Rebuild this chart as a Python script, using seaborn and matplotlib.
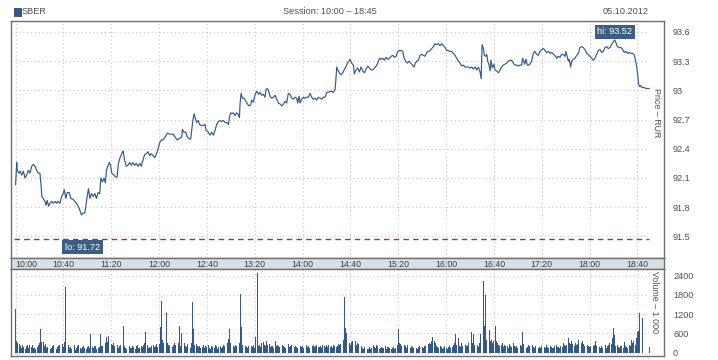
import numpy as np
import pandas as pd
import matplotlib
matplotlib.use("Agg")
import matplotlib.pyplot as plt
from matplotlib.patches import Rectangle
import seaborn as sns

# ---------------- data ----------------
ticker = "SBER"
session_text = "Session: 10:00 \u2013 18:45"
date_text = "05.10.2012"

# price: minutes after 10:00 and price (RUR)
price_minutes = [
    0, 1, 1.4, 2.8, 3.8, 5.1, 6.5, 7.9, 9.3, 10.7, 12.1, 13.5, 14.9, 16.3, 17.6, 19, 20.4, 21.3, 22, 23.2,
    24.6, 25.4, 26.5, 27.6, 28.8, 30.1, 31.5, 32.9, 34.3, 35.6, 37.1, 38.5, 39.8, 40.7, 42, 43.2, 44.9, 46.3, 48.2, 49.6,
    51, 52.4, 53.8, 55.1, 56.5, 57.9, 58.8, 59.9, 61, 62.1, 63.5, 64.9, 66.3, 67.6, 69, 70.4, 71.3, 72.6, 74, 75.1,
    76, 77.4, 78.5, 79.6, 80.4, 82.1, 83.8, 84.9, 86, 87.1, 88.5, 89.9, 91.3, 92.6, 94, 95.4, 96.8, 98.1, 99.6, 100.9,
    102.4, 103.8, 105.1, 106.5, 107.9, 109.3, 110.8, 112.1, 113.5, 114.9, 116.3, 117.6, 119, 120.4, 121.8, 123.2, 125, 127,
    129.2, 132.0, 133.4, 135.3, 137.6, 139.0, 139.5, 140.9, 142.3, 143.7, 145.4, 146.5, 147.3, 148.2, 149.3, 150.1,
    151.5, 152.9, 153.7, 155.7, 157.1, 158.5, 159.3, 161.2, 162.6, 164.0, 165.4, 166.8, 168.2, 169.6, 171.0, 172.4,
    173.8, 175.2, 176.6, 178.0, 178.8, 179.9, 181.0, 182.2, 183.5, 184.9, 186.3, 187.2, 187.7, 188.6, 189.7, 191.1,
    192.5, 193.9, 195.3, 196.6, 197.5, 198.9, 200.3, 201.7, 203.1, 204.4, 205.8, 207.2, 208.6, 209.5, 210.6, 211.7,
    212.8, 214.2, 215.6, 217.0, 218.4, 219.8, 221.2, 222.6, 224.0, 225.4, 226.7, 228.1, 229.5, 230.9, 232.3, 233.7,
    235.1, 235.9, 237.1, 237.9, 239.3, 240.7, 242.1, 243.5, 244.9, 246.3, 247.6, 249.0, 250.4, 251.8, 253.2, 254.6,
    256.0, 257.4, 258.8, 260.2, 261.6, 263.0, 264.4, 265.8, 267.2,
    268.6, 269.4, 270.8, 272.2, 273.6, 274.7, 276.1, 277.5, 278.9, 279.7, 281.1, 282.5, 283.3, 284.7, 286.1, 287.5,
    288.9, 290.3, 291.7, 293.1, 294.5, 295.9, 297.3, 298.7, 300.1, 301.5, 302.9, 304.2, 305.6, 307.0, 308.4, 309.8,
    311.2, 312.6, 314.0, 315.4, 316.8, 318.2, 319.6, 321.0, 322.4, 323.8, 324.9, 326.3, 327.7, 329.1, 330.4, 331.8,
    333.2, 334.3, 335.5, 336.9, 338.2, 339.6, 341.0, 342.4, 343.8, 345.2, 346.6, 348.0, 349.4, 350.8, 352.2, 353.6,
    355.0, 356.4, 357.8, 359.2, 360.5, 361.9, 363.3, 364.7, 366.1, 367.5, 368.9, 370.3, 371.7, 373.1, 374.5, 375.9,
    377.3, 378.7, 380.1, 381.4, 382.8, 384.2, 385.6, 387.0, 388.4, 389.3, 390.1, 391.2, 392.0, 393.2, 394.0, 394.8,
    395.9, 396.8,
    397.5, 398.7, 400.0, 400.9, 402.3, 403.7, 405.1, 406.5, 407.8, 409.2, 410.6, 412.0, 413.4, 414.8, 416.2, 417.6,
    419.0, 420.4, 421.8, 423.2, 424.0, 424.9, 425.7, 426.8, 427.9, 429.0, 430.1, 431.5, 432.9, 434.3, 435.7, 437.1,
    438.5, 439.9, 441.3, 442.7, 444.1, 445.5, 446.9, 448.3, 449.7, 451.0, 452.4, 453.8, 455.2, 456.6, 458.0, 459.4,
    460.2, 461.4, 462.2, 463.0, 464.1, 465.0, 466.4, 467.8, 469.2, 470.6, 471.9, 473.3, 474.7, 476.1, 477.5, 478.9,
    480.3, 481.7, 483.1, 484.5, 485.9, 487.3, 488.7, 490.1, 491.5, 492.9, 494.3, 495.6, 497.0, 498.4, 499.8, 500.9,
    502.0, 503.2, 504.8, 506.2, 507.6, 509.0, 510.4, 511.8, 513.2, 514.6, 516.0, 517.1, 518.2, 519.3, 520.2, 521.0,
    521.8, 522.7, 523.8, 525.5, 527.1, 528.8, 529.9,
]
price_values = [
    92.03, 92.26, 92.18, 92.15, 92.17, 92.13, 92.17, 92.10, 92.13, 92.18, 92.15, 92.22, 92.24, 92.22, 92.18, 92.15, 92.15, 92.03, 91.91, 91.89,
    91.86, 91.82, 91.87, 91.81, 91.84, 91.86, 91.84, 91.86, 91.84, 91.86, 91.84, 91.91, 91.94, 91.98, 91.89, 91.95, 91.95, 91.89, 91.88, 91.86,
    91.84, 91.81, 91.77, 91.72, 91.74, 91.74, 91.81, 91.91, 91.99, 91.89, 91.94, 91.91, 91.94, 91.89, 91.95, 91.94, 92.10, 92.06, 92.10, 92.05,
    92.18, 92.23, 92.26, 92.22, 92.15, 92.13, 92.11, 92.11, 92.25, 92.30, 92.34, 92.38, 92.28, 92.22, 92.23, 92.26, 92.23, 92.26, 92.23, 92.25,
    92.22, 92.25, 92.22, 92.28, 92.34, 92.35, 92.37, 92.33, 92.35, 92.33, 92.31, 92.34, 92.39, 92.46, 92.49, 92.49, 92.52, 92.56,
    92.55, 92.55, 92.52, 92.49, 92.51, 92.52, 92.60, 92.57, 92.57, 92.52, 92.50, 92.50, 92.59, 92.69, 92.76, 92.72,
    92.67, 92.69, 92.65, 92.64, 92.64, 92.65, 92.59, 92.57, 92.54, 92.57, 92.54, 92.59, 92.65, 92.68, 92.69, 92.68,
    92.69, 92.67, 92.67, 92.65, 92.72, 92.77, 92.76, 92.77, 92.74, 92.77, 92.75, 92.72, 92.86, 92.97, 92.92, 92.92,
    92.89, 92.86, 92.84, 92.85, 92.90, 92.88, 92.96, 92.99, 92.96, 92.98, 92.95, 92.96, 92.93, 93.01, 93.02, 92.99,
    92.94, 92.92, 92.93, 92.95, 92.91, 92.87, 92.86, 92.84, 92.86, 92.89, 92.87, 92.97, 92.96, 92.92, 92.91, 92.93,
    92.92, 92.87, 92.94, 92.87, 92.91, 92.93, 92.92, 92.93, 92.93, 92.97, 92.93, 92.91, 92.92, 92.90, 92.93, 92.92,
    92.91, 92.93, 92.93, 92.98, 92.98, 92.99, 92.99, 92.98, 93.01,
    93.24, 93.21, 93.18, 93.16, 93.18, 93.21, 93.24, 93.28, 93.30, 93.32, 93.28, 93.26, 93.17, 93.21, 93.23, 93.19,
    93.24, 93.20, 93.18, 93.22, 93.25, 93.23, 93.21, 93.21, 93.23, 93.25, 93.28, 93.33, 93.32, 93.33, 93.31, 93.34,
    93.32, 93.33, 93.35, 93.36, 93.34, 93.35, 93.40, 93.41, 93.41, 93.40, 93.33, 93.30, 93.28, 93.30, 93.28, 93.26,
    93.24, 93.28, 93.30, 93.31, 93.36, 93.37, 93.36, 93.35, 93.39, 93.40, 93.41, 93.43, 93.45, 93.48, 93.47, 93.48,
    93.46, 93.48, 93.46, 93.44, 93.41, 93.41, 93.40, 93.40, 93.38, 93.36, 93.33, 93.30, 93.28, 93.25, 93.26, 93.24,
    93.24, 93.24, 93.23, 93.24, 93.22, 93.24, 93.21, 93.24, 93.19, 93.12, 93.47, 93.43, 93.36, 93.35, 93.37, 93.30,
    93.26, 93.20,
    93.31, 93.23, 93.27, 93.21, 93.20, 93.18, 93.21, 93.24, 93.26, 93.27, 93.28, 93.30, 93.31, 93.31, 93.28, 93.26,
    93.26, 93.25, 93.26, 93.26, 93.33, 93.30, 93.27, 93.32, 93.26, 93.26, 93.27, 93.30, 93.38, 93.40, 93.37, 93.36,
    93.40, 93.42, 93.43, 93.41, 93.39, 93.40, 93.38, 93.39, 93.37, 93.36, 93.33, 93.35, 93.34, 93.37, 93.37, 93.35,
    93.40, 93.34, 93.30, 93.32, 93.24, 93.30, 93.32, 93.33, 93.36, 93.38, 93.44, 93.45, 93.44, 93.42, 93.38, 93.37,
    93.35, 93.33, 93.31, 93.33, 93.37, 93.41, 93.42, 93.39, 93.40, 93.44, 93.45, 93.43, 93.44, 93.47, 93.50, 93.52,
    93.49, 93.45, 93.44, 93.44, 93.42, 93.39, 93.40, 93.38, 93.39, 93.38, 93.38, 93.37, 93.32, 93.25, 93.16, 93.06,
    93.04, 93.05, 93.03, 93.03, 93.02, 93.02, 93.02,
]

# volume (thousands of shares) per minute from 10:00
volume = [
    1360, 350, 300, 260, 200, 150, 240, 180, 120, 220, 250, 160, 230, 180, 250, 150, 140, 120, 180, 230,
    300, 740, 340, 320, 200, 260, 150, 180, 230, 120, 160, 210, 250, 140, 100, 180, 200, 230, 150, 260,
    180, 320, 2060, 2340, 250, 150, 180, 120, 200, 230, 90, 160, 200, 240, 140, 110, 170, 220, 150, 130,
    180, 200, 160, 580, 170, 140, 200, 220, 120, 150, 180, 580, 200, 220, 150, 300, 500, 330, 520, 450,
    260, 250, 300, 200, 180, 230, 150, 200, 250, 260, 840, 200, 150, 130, 190, 220, 160, 140, 210, 180,
    120, 200, 240, 150, 160, 220, 170, 230, 300, 650, 250, 160, 180, 140, 200, 230, 170, 210, 280, 180,
    260, 800, 1610, 400, 300, 250, 1250, 300, 250, 200, 260, 180, 230, 300, 240, 220, 300, 830, 200, 600,
    250, 300, 200, 180, 260, 220, 150, 300, 1580, 750, 250, 270, 200, 180, 220, 150, 190, 230, 160, 200,
    180, 230, 150, 120, 210, 190, 160, 240, 200, 130, 180, 220, 150, 170, 230, 200, 260, 300, 420, 740,
    300, 250, 200, 180, 230, 220, 260, 300, 1830, 810, 250, 230, 200, 180, 150, 220, 260, 200, 170, 240,
    140, 500, 2490, 200, 250, 180, 300, 320, 230, 200, 350, 240, 260, 180, 200, 220, 160, 380, 200, 250,
    210, 180, 150, 230, 200, 170, 140, 220, 260, 180, 200, 230, 150, 170, 210, 190, 140, 160, 220, 180,
    200, 150, 170, 230, 180, 200, 140, 160, 210, 250, 180, 200, 230, 170, 190, 210, 160, 240, 200, 180,
    230, 170, 250, 190, 210, 160, 240, 200, 180, 220, 260, 230, 280, 260, 400, 1745, 780, 600, 350, 300,
    250, 330, 360, 220, 380, 240, 300, 260, 1143, 200, 150, 120, 180, 160, 100, 130, 170, 120, 160, 250,
    180, 140, 230, 200, 120, 160, 180, 150, 140, 200, 130, 170, 190, 150, 120, 160, 180, 130, 150, 230,
    740, 300, 280, 220, 180, 250, 200, 160, 230, 180, 150, 200, 170, 140, 180, 150, 130, 170, 200, 160,
    180, 150, 200, 220, 170, 260, 300, 280, 350, 500, 370, 300, 220, 180, 150, 200, 170, 130, 150, 210,
    160, 120, 180, 200, 150, 170, 250, 300, 580, 250, 470, 200, 180, 300, 200, 150, 250, 220, 200, 300,
    230, 630, 300, 570, 250, 200, 230, 180, 300, 570, 1820, 2234, 840, 1800, 400, 300, 700, 350, 400, 300,
    350, 830, 350, 300, 250, 200, 230, 300, 180, 250, 200, 220, 150, 260, 200, 180, 300, 220, 170, 200,
    150, 180, 230, 200, 630, 260, 220, 150, 180, 250, 200, 160, 230, 180, 150, 200, 170, 140, 190, 150,
    200, 160, 180, 150, 230, 180, 150, 200, 170, 140, 160, 200, 250, 180, 170, 150, 220, 190, 300, 250,
    200, 250, 450, 300, 260, 350, 280, 200, 300, 230, 260, 400, 550, 300, 350, 260, 200, 300, 230, 200,
    180, 220, 150, 200, 250, 350, 200, 330, 180, 160, 200, 150, 180, 230, 160, 200, 250, 300, 260, 450,
    780, 550, 200, 250, 180, 150, 200, 220, 160, 320, 200, 180, 150, 230, 200, 400, 300, 350, 250, 450,
    650, 675, 1226, 680, 1091, 0, 0, 0, 0, 0, 187,
]

time_ticks = [0, 40, 80, 120, 160, 200, 240, 280, 320, 360, 400, 440, 480, 520]
time_labels = ["10:00", "10:40", "11:20", "12:00", "12:40", "13:20", "14:00", "14:40",
               "15:20", "16:00", "16:40", "17:20", "18:00", "18:40"]
price_ticks = [91.5, 91.8, 92.1, 92.4, 92.7, 93.0, 93.3, 93.6]
price_labels = ["91.5", "91.8", "92.1", "92.4", "92.7", "93", "93.3", "93.6"]
vol_ticks = [0, 600, 1200, 1800, 2400]
vol_labels = ["0", "600", "1200", "1800", "2400"]

# ---------------- style ----------------
sns.set_theme(style="white")
plt.rcParams['font.family'] = ['Liberation Sans', 'DejaVu Sans']

BLUE = "#33598a"
BOX = "#3b5e84"
TXT = "#505050"
GRID = "#c8c8c8"
FRAME = "#707070"
STRIP = "#d7dfe7"

W, H = 718, 360
fig = plt.figure(figsize=(W / 100, H / 100), dpi=100)
fig.patch.set_facecolor("white")


def rect(x0, y0, x1, y1):
    return [x0 / W, 1 - y1 / H, (x1 - x0) / W, (y1 - y0) / H]


ax_p = fig.add_axes(rect(11, 21, 664, 258))
ax_s = fig.add_axes(rect(11, 258, 664, 269))
ax_v = fig.add_axes(rect(11, 269, 664, 356))

XMIN, XMAX = -3.8, 542.2
GRID_END = 530

for ax in (ax_p, ax_s, ax_v):
    ax.set_xlim(XMIN, XMAX)
    ax.set_facecolor("white")
    for s in ax.spines.values():
        s.set_color(FRAME)
        s.set_linewidth(1.0)
        s.set_visible(True)
    ax.set_xticks([])

dots = (0, (1, 2.5))

# ---- price panel ----
ax_p.set_ylim(91.278, 93.713)
ax_p.vlines(time_ticks, 91.278, 93.713, colors=GRID, linestyles=dots, lw=0.8, zorder=0)
ax_p.hlines(price_ticks, -0.5, GRID_END, colors=GRID, linestyles=dots, lw=0.8, zorder=0)

df_p = pd.DataFrame({"t": price_minutes, "price": price_values})
sns.lineplot(data=df_p, x="t", y="price", ax=ax_p, color=BLUE, linewidth=0.85,
             estimator=None, sort=True, zorder=3)
ax_p.set_xlim(XMIN, XMAX)
ax_p.set_ylim(91.278, 93.713)
ax_p.set_xlabel("")
ax_p.set_ylabel("")
ax_p.set_xticks([])
ax_p.set_yticks(price_ticks)
ax_p.set_yticklabels(price_labels)
ax_p.tick_params(axis="y", left=False, right=False, labelleft=False, labelright=True,
                 length=0, pad=6.5, labelsize=6.6, labelcolor=TXT)

# reference dashed line near bottom
ax_p.hlines(91.473, -1, GRID_END, colors="#b03030", linestyles=(0, (4, 3)), lw=1.0, zorder=2)

# hi / lo labels
i_hi = int(np.argmax(price_values))
i_lo = int(np.argmin(price_values))
ax_p.annotate(f"hi: {price_values[i_hi]:.2f}", xy=(price_minutes[i_hi], price_values[i_hi]),
              xytext=(0, 8), textcoords="offset pixels", ha="center", va="center",
              fontsize=6.6, color="white",
              bbox=dict(boxstyle="square,pad=0.28", fc=BOX, ec="none"), zorder=5)
ax_p.annotate(f"lo: {price_values[i_lo]:.2f}", xy=(price_minutes[i_lo], 91.473),
              xytext=(1, -8), textcoords="offset pixels", ha="center", va="center",
              fontsize=6.6, color="white",
              bbox=dict(boxstyle="square,pad=0.28", fc=BOX, ec="none"), zorder=5)

fig.text(656 / W, 1 - 88 / H, "Price \u2013 RUR",
         rotation=270, ha="center", va="top", fontsize=6.4, color=TXT)

# ---- time strip ----
ax_s.set_facecolor(STRIP)
ax_s.set_ylim(0, 1)
ax_s.set_yticks([])
for t, lab in zip(time_ticks, time_labels):
    ax_s.text(t if t > 0 else -0.5, 0.45, lab, ha="left" if t == 0 else "center", va="center",
              fontsize=6.3, color="#404040")

# ---- volume panel ----
ax_v.vlines(time_ticks, -103, 2609, colors=GRID, linestyles=dots, lw=0.8, zorder=0)
ax_v.hlines(vol_ticks, -0.5, GRID_END, colors=GRID, linestyles=dots, lw=0.8, zorder=0)
df_v = pd.DataFrame({"t": np.arange(len(volume), dtype=float), "vol": np.asarray(volume, dtype=float)})
sns.histplot(data=df_v, x="t", weights="vol", binwidth=1, binrange=(-0.5, len(volume) - 0.5),
             shrink=0.75, color=BLUE, alpha=1.0, linewidth=0, ax=ax_v, zorder=3)
ax_v.set_xlim(XMIN, XMAX)
ax_v.set_ylim(-103, 2609)
ax_v.set_xlabel("")
ax_v.set_ylabel("")
ax_v.set_xticks([])
ax_v.set_yticks(vol_ticks)
ax_v.set_yticklabels(vol_labels)
ax_v.tick_params(axis="y", left=False, right=False, labelleft=False, labelright=True,
                 length=0, pad=6.5, labelsize=6.6, labelcolor=TXT)
fig.text(655 / W, 1 - 271 / H, "Volume \u2013 1 000",
         rotation=270, ha="center", va="top", fontsize=6.4, color=TXT)

# ---- header ----
fig.patches.append(Rectangle((14 / W, 1 - 16 / H), 7 / W, 8 / H, transform=fig.transFigure,
                             fc=BLUE, ec="#2a4a6e", lw=0.6))
fig.text(22 / W, 1 - 12 / H, ticker, ha="left", va="center", fontsize=6.6, color=TXT)
fig.text(283 / W, 1 - 12 / H, session_text, ha="left", va="center", fontsize=6.6, color=TXT)
fig.text(649 / W, 1 - 12 / H, date_text, ha="right", va="center", fontsize=6.6, color=TXT)

fig.savefig("out.png", dpi=100)
